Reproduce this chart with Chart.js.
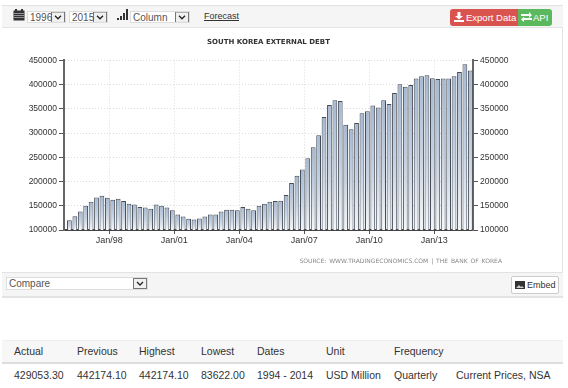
<!DOCTYPE html>
<html>
<head>
<meta charset="utf-8">
<script src="https://cdn.jsdelivr.net/npm/chart.js@4"></script>
<style>
    html, body { margin: 0; padding: 0; background: #fff; overflow: hidden; }
    body { width: 568px; height: 388px; position: relative; font-family: "Liberation Sans", Arial, sans-serif; color: #333; }
    .abs { position: absolute; white-space: nowrap; }
    .frame { left: 2px; top: 5px; width: 560px; height: 291px; border: 1px solid #e3e3e3; border-left: 0; }
    .bar { left: 2px; width: 561px; background: #f5f5f5; border-top: 1px solid #e3e3e3; border-bottom: 1px solid #e3e3e3; box-sizing: border-box; }
    select {
        position: absolute; box-sizing: border-box; font: 10px/11px "Liberation Sans", Arial, sans-serif; color: #555;
        border: 1px solid #ddd; border-radius: 0; padding: 0 0 0 2px; margin: 0;
        appearance: none; -webkit-appearance: none;
        background: #fff url("data:image/svg+xml,%3Csvg xmlns='http://www.w3.org/2000/svg' width='14' height='11'%3E%3Crect x='.5' y='.5' width='13' height='10' fill='%23f0f0f0' stroke='%23777'/%3E%3Cpath d='M4 4l3 3 3-3' fill='none' stroke='%23222' stroke-width='1.3'/%3E%3C/svg%3E") no-repeat right center;
    }
    .btn { color: #fff; font-size: 9.5px; box-sizing: border-box; height: 17px; line-height: 17px; }
    .cell { font-size: 10.5px; color: #333; }
</style>
</head>
<body>
<div class="abs frame"></div>
<div class="abs bar" style="top:5px;height:23px"></div>
<div class="abs bar" style="top:272px;height:25px"></div>

<svg class="abs" style="left:13px;top:9px" width="12" height="12" viewBox="0 0 12 12">
    <rect x="0.5" y="1.5" width="11" height="10" fill="#333"/>
    <rect x="2" y="0" width="2" height="3" fill="#333"/><rect x="8" y="0" width="2" height="3" fill="#333"/>
    <path d="M1 4.5H11M1 6.5H11M1 8.5H11" stroke="#bbb" stroke-width="0.7"/>
</svg>
<select style="left:27px;top:11px;width:39px;height:12px"><option>1996</option></select>
<select style="left:69px;top:11px;width:39px;height:12px"><option>2015</option></select>
<svg class="abs" style="left:117px;top:9px" width="11" height="12" viewBox="0 0 11 12">
    <path d="M0 9h2v2H0zM3 7h2v4H3zM6 4h2v7H6zM9 0h2v11H9z" fill="#333"/>
</svg>
<select style="left:130px;top:11px;width:60px;height:12px"><option>Column</option></select>
<div class="abs" style="left:204px;top:11px;font-size:9px;text-decoration:underline;color:#333">Forecast</div>

<div class="abs btn" style="left:450px;top:9px;width:68px;background:#d9534f;border-radius:3px 0 0 3px;padding-left:16px">Export Data</div>
<svg class="abs" style="left:454px;top:12px" width="10" height="10" viewBox="0 0 10 10">
    <path d="M3.5 0h3v4h2.5L5 7.5 1 4h2.5zM0 8h10v2H0z" fill="#fff"/>
</svg>
<div class="abs btn" style="left:518px;top:9px;width:34px;background:#5cb85c;border-radius:0 3px 3px 0;padding-left:15px">API</div>
<svg class="abs" style="left:521px;top:12px" width="11" height="10" viewBox="0 0 11 10">
    <path d="M0 2h8V0l3 3-3 3V4H0zM11 6H3V4.8L0 7.5 3 10V8h8z" fill="#fff"/>
</svg>

<div class="abs" style="left:0;top:28px;width:537px;height:237px"><canvas id="grafico-divida"></canvas></div>
<div class="abs" id="fonte" style="right:66px;top:257px;font-size:6px;letter-spacing:0;word-spacing:1px;color:#888;font-family:'DejaVu Sans',sans-serif"></div>

<select style="left:6px;top:277px;width:142px;height:13px"><option>Compare</option></select>
<div class="abs" style="left:511px;top:276px;width:48px;height:18px;box-sizing:border-box;background:#fff;border:1px solid #ccc;border-radius:2px;font-size:9px;line-height:16px;padding-left:15px">Embed</div>
<svg class="abs" style="left:515px;top:281px" width="10" height="8" viewBox="0 0 10 8">
    <rect width="10" height="8" fill="#333"/><path d="M1 7l3-3 2 2 1-1 2 2z" fill="#ccc"/>
</svg>

<div class="abs" style="left:2px;top:340px;width:561px;height:24px;background:#f7f7f7;border-top:1px solid #eee;border-bottom:2px solid #ddd;box-sizing:border-box"></div>
<div id="tabela"></div>

<script>
// Dados
const trimestres = [
    'Mar/96','Jun/96','Sep/96','Dec/96','Mar/97','Jun/97','Sep/97','Dec/97',
    'Mar/98','Jun/98','Sep/98','Dec/98','Mar/99','Jun/99','Sep/99','Dec/99',
    'Mar/00','Jun/00','Sep/00','Dec/00','Mar/01','Jun/01','Sep/01','Dec/01',
    'Mar/02','Jun/02','Sep/02','Dec/02','Mar/03','Jun/03','Sep/03','Dec/03',
    'Mar/04','Jun/04','Sep/04','Dec/04','Mar/05','Jun/05','Sep/05','Dec/05',
    'Mar/06','Jun/06','Sep/06','Dec/06','Mar/07','Jun/07','Sep/07','Dec/07',
    'Mar/08','Jun/08','Sep/08','Dec/08','Mar/09','Jun/09','Sep/09','Dec/09',
    'Mar/10','Jun/10','Sep/10','Dec/10','Mar/11','Jun/11','Sep/11','Dec/11',
    'Mar/12','Jun/12','Sep/12','Dec/12','Mar/13','Jun/13','Sep/13','Dec/13',
    'Mar/14','Jun/14','Sep/14'
];
const divida = [
    120000, 128500, 138000, 150300, 158500, 167000, 170700, 166600,
    162500, 164600, 160000, 154400, 152400, 147600, 146200, 144000,
    152500, 150300, 146200, 140800, 132000, 127900, 123000, 121800,
    123800, 128000, 132000, 132000, 138000, 142000, 142000, 141000,
    147600, 144000, 141000, 150000, 154400, 158500, 160000, 160500,
    172000, 197000, 212000, 224700, 248000, 271000, 295700, 333000,
    358000, 368000, 366000, 317000, 308000, 321000, 341000, 345000,
    357000, 353000, 368000, 360000, 382500, 401000, 395500, 399000,
    412500, 417500, 419500, 413000, 411500, 412500, 412500, 417500,
    426000, 442174.1, 429053.3
];
const rotulosX = ['Jan/98', 'Jan/01', 'Jan/04', 'Jan/07', 'Jan/10', 'Jan/13'];
const rotulosY = [100000, 150000, 200000, 250000, 300000, 350000, 400000, 450000];
const titulo = 'SOUTH KOREA EXTERNAL DEBT';
const fonte = 'SOURCE: WWW.TRADINGECONOMICS.COM | THE BANK OF KOREA';

const colunasTabela = ['Actual', 'Previous', 'Highest', 'Lowest', 'Dates', 'Unit', 'Frequency', ''];
const valoresTabela = ['429053.30', '442174.10', '442174.10', '83622.00', '1994 - 2014', 'USD Million', 'Quarterly', 'Current Prices, NSA'];
const xColunas = [14, 77, 139, 201, 257, 326, 394, 456];

const MESES = { Jan: 0, Mar: 2, Jun: 5, Sep: 8, Dec: 11 };

// Converte 'Mar/96' em meses corridos
function paraMeses(rotulo) {
    const [mes, ano] = rotulo.split('/');
    const a = Number(ano);
    return (a < 50 ? 2000 + a : 1900 + a) * 12 + MESES[mes];
}

document.getElementById('fonte').textContent = fonte;

// Tabela de baixo
const tabela = document.getElementById('tabela');
colunasTabela.forEach((texto, i) => {
    const cab = document.createElement('div');
    cab.className = 'abs cell';
    cab.style.cssText = `left:${xColunas[i]}px;top:345px`;
    cab.textContent = texto;
    tabela.appendChild(cab);

    const val = document.createElement('div');
    val.className = 'abs cell';
    val.style.cssText = `left:${xColunas[i]}px;top:369px`;
    val.textContent = valoresTabela[i];
    tabela.appendChild(val);
});

// Gradiente de cada coluna, do topo da coluna até a base
function gradienteColuna(context) {
    const area = context.chart.chartArea;
    if (!area || !context.parsed) return '#b0c4de';
    const topo = context.chart.scales.y.getPixelForValue(context.parsed.y);
    const g = context.chart.ctx.createLinearGradient(0, topo, 0, area.bottom);
    g.addColorStop(0, '#a6b9d1');
    g.addColorStop(0.5, '#c3d1e2');
    g.addColorStop(1, '#f4f7fa');
    return g;
}

const eixoY = {
    min: 100000,
    max: 450000,
    afterBuildTicks: (escala) => { escala.ticks = rotulosY.map(v => ({ value: v })); },
    ticks: { color: '#333', font: { family: 'Liberation Sans', size: 8.5 }, padding: 2, callback: v => String(v) },
    border: { display: true, color: '#666', width: 2, dash: [1, 2] }
};

new Chart(document.getElementById('grafico-divida').getContext('2d'), {
    type: 'bar',
    data: {
        datasets: [{
            label: titulo,
            data: trimestres.map((t, i) => ({ x: paraMeses(t), y: divida[i] })),
            backgroundColor: gradienteColuna,
            borderColor: '#454c57',
            borderWidth: { top: 1, left: 1, right: 1, bottom: 0 },
            barPercentage: 0.88,
            categoryPercentage: 1,
            yAxisID: 'y'
        }]
    },
    options: {
        responsive: true,
        maintainAspectRatio: false,
        animation: false,
        layout: { padding: { left: 0, right: 0, top: 0, bottom: 0 } },
        plugins: {
            legend: { display: false },
            tooltip: { enabled: false },
            title: {
                display: true,
                text: titulo,
                color: '#333',
                font: { family: 'DejaVu Sans', size: 7, weight: 'bold' },
                padding: { top: 10, bottom: 14 }
            }
        },
        scales: {
            x: {
                type: 'linear',
                offset: false,
                min: paraMeses('Jan/98') - 25,
                max: paraMeses('Jan/98') - 25 + 226.5,
                afterBuildTicks: (escala) => { escala.ticks = rotulosX.map(r => ({ value: paraMeses(r) })); },
                afterTickToLabelConversion: (escala) => { escala.ticks.forEach((t, i) => { t.label = rotulosX[i]; }); },
                afterFit: (escala) => { escala.height = 35; },
                ticks: { color: '#333', font: { family: 'Liberation Sans', size: 9 }, maxRotation: 0, autoSkip: false, padding: 1 },
                grid: { offset: false, color: '#dcdcdc', tickColor: '#555', tickLength: 4, lineWidth: 1 },
                border: { display: true, color: '#444', width: 2, dash: [1, 2] }
            },
            y: {
                ...eixoY,
                position: 'left',
                afterFit: (escala) => { escala.width = 64; },
                grid: { color: '#dcdcdc', tickColor: '#555', tickLength: 5 }
            },
            y2: {
                ...eixoY,
                position: 'right',
                afterFit: (escala) => { escala.width = 64; },
                grid: { drawOnChartArea: false, tickColor: '#555', tickLength: 5 }
            }
        }
    }
});
</script>
</body>
</html>
